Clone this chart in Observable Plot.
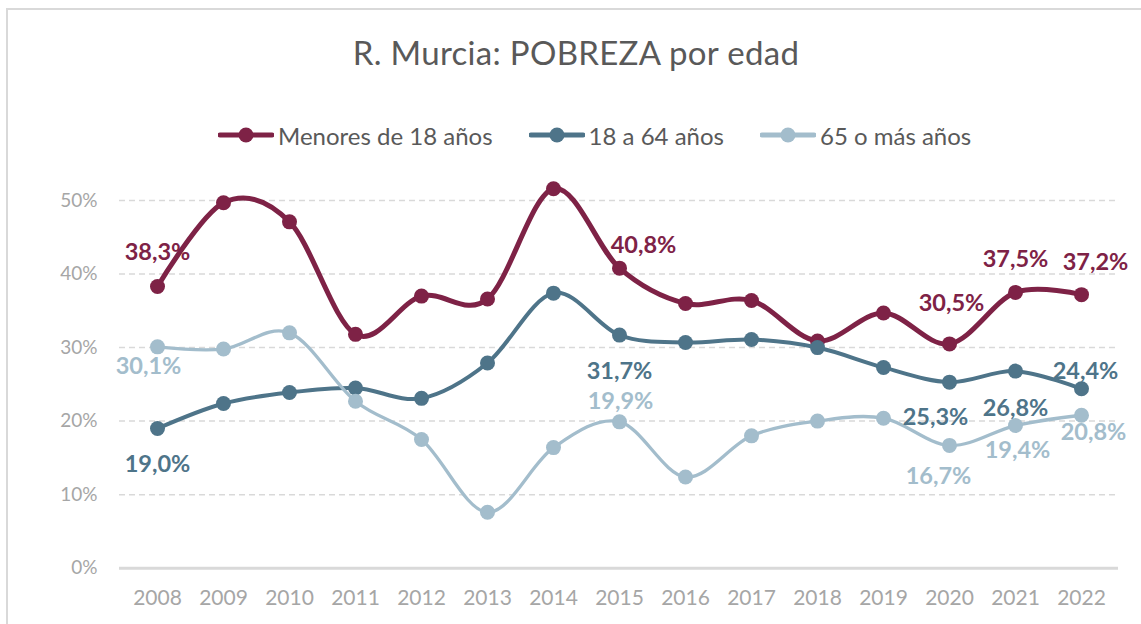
<!DOCTYPE html>
<html><head><meta charset="utf-8">
<script src="https://cdn.jsdelivr.net/npm/d3@7"></script>
<script src="https://cdn.jsdelivr.net/npm/@observablehq/plot@0.6"></script>
<style>
html,body{margin:0;padding:0;background:#fff;}
#wrap{position:relative;width:1141px;height:624px;overflow:hidden;font-family:Lato,"Open Sans",sans-serif;}
#frame{position:absolute;left:6px;top:8px;width:1300px;height:800px;border:2px solid #d9d9d9;box-sizing:border-box;}
#title{position:absolute;top:31px;left:0;width:1152px;text-align:center;font-size:33px;color:#595959;line-height:42px;letter-spacing:0.3px;}
#legend{position:absolute;top:120px;left:218px;height:30px;display:flex;align-items:center;font-size:24px;color:#595959;white-space:nowrap;}
#legend .item{display:flex;align-items:center;margin-right:36px;}
#legend svg{margin-right:4px;}
#chart{position:absolute;top:160px;left:0;}
</style>
</head><body>
<div id="wrap">
  <div id="frame"></div>
  <div id="title">R. Murcia: POBREZA por edad</div>
  <div id="legend"></div>
  <div id="chart"></div>
</div>
<script>
const years = [2008,2009,2010,2011,2012,2013,2014,2015,2016,2017,2018,2019,2020,2021,2022];
const menores = [38.3,49.7,47.1,31.8,37.0,36.6,51.6,40.8,36.0,36.4,30.9,34.7,30.5,37.5,37.2];
const adultos = [19.0,22.4,23.9,24.5,23.1,27.9,37.4,31.7,30.7,31.1,30.0,27.3,25.3,26.8,24.4];
const mayores = [30.1,29.8,32.0,22.7,17.5,7.6,16.4,19.9,12.4,18.0,20.0,20.4,16.7,19.4,20.8];
const seriesNames = ["Menores de 18 años","18 a 64 años","65 o más años"];
const seriesColors = ["#7e2246","#4e7489","#a3bdcc"];
const yTicks = [0,10,20,30,40,50];
const labelYears = [2008,2015,2020,2021,2022];

// label placement (offsets in px from the point)
const labelOffsets = [
  [[0,-34],[24,-23],[2,-40],[0,-33],[14,-32]],
  [[0,36],[0,36],[-14,35],[0,37],[4,-17]],
  [[-9,20],[1,-20],[-11,31],[2,25],[12,17]]
];
const lineWidths = [5,4,3.3];

const allSeries = [menores, adultos, mayores];
const rows = allSeries.flatMap((vals,s)=>vals.map((v,i)=>({serie:seriesNames[s], s, year:years[i], value:v})));
const fmt = v => d3.format(".1f")(v).replace(".", ",") + "%";

const marks = [
  Plot.gridY(yTicks.filter(d=>d>0), {stroke:"#d9d9d9", strokeOpacity:1, strokeWidth:1.5, strokeDasharray:"6,4"}),
  Plot.ruleY([0], {stroke:"#d9d9d9", strokeWidth:3}),
  Plot.axisY(yTicks, {tickSize:0, tickPadding:22, tickFormat:d=>d+"%", fill:"#a6a6a6", fontSize:19, label:null}),
  Plot.axisX(years, {tickSize:0, tickPadding:22, tickFormat:d=>String(d), fill:"#a6a6a6", fontSize:21, label:null})
];
allSeries.forEach((vals,s)=>{
  const d = rows.filter(r=>r.s===s);
  marks.push(Plot.line(d, {x:"year", y:"value", stroke:seriesColors[s], strokeWidth:lineWidths[s], curve:"cardinal", tension:0}));
  marks.push(Plot.dot(d, {x:"year", y:"value", fill:seriesColors[s], r:7.5, stroke:null}));
});
allSeries.forEach((vals,s)=>{
  labelYears.forEach((yr,k)=>{
    const i = years.indexOf(yr);
    marks.push(Plot.text([{year:yr, value:vals[i]}], {x:"year", y:"value", text:d=>fmt(d.value),
      dx:labelOffsets[s][k][0], dy:labelOffsets[s][k][1], fill:seriesColors[s], fontSize:23.5, fontWeight:"bold"}));
  });
});

const chart = Plot.plot({
  width:1141, height:464,
  marginLeft:119, marginRight:23, marginTop:40, marginBottom:56.3,
  x:{type:"point", domain:years, padding:0.5},
  y:{domain:[0,50]},
  style:{fontFamily:"Lato, 'Open Sans', sans-serif", background:"transparent", overflow:"visible"},
  marks
});
document.getElementById("chart").appendChild(chart);

// legend
const legend = d3.select("#legend");
seriesNames.forEach((n,s)=>{
  const it = legend.append("div").attr("class","item");
  const sv = it.append("svg").attr("width",56).attr("height",20);
  sv.append("line").attr("x1",2).attr("x2",54).attr("y1",10).attr("y2",10).attr("stroke",seriesColors[s]).attr("stroke-width",5).attr("stroke-linecap","round");
  sv.append("circle").attr("cx",28).attr("cy",10).attr("r",7.5).attr("fill",seriesColors[s]);
  it.append("span").text(n);
});
</script>
</body></html>
